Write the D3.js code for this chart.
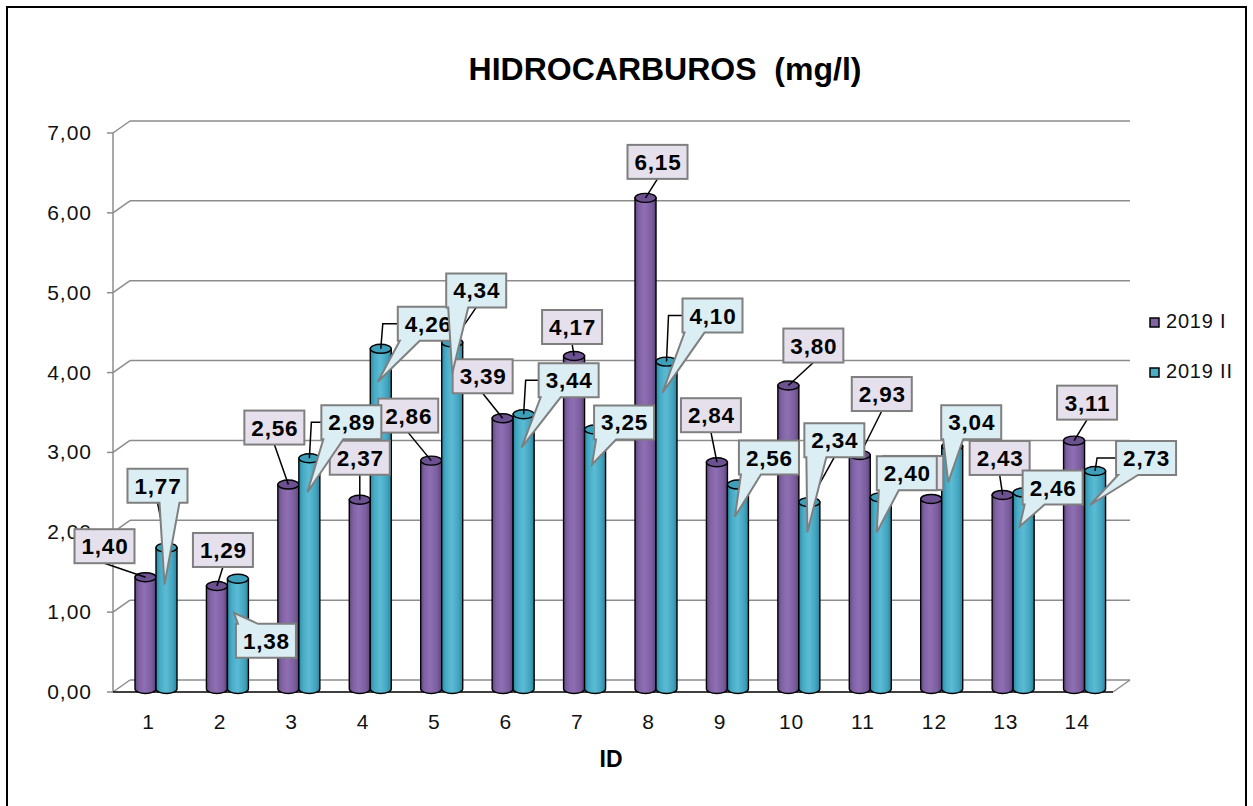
<!DOCTYPE html>
<html>
<head>
<meta charset="utf-8">
<script src="https://cdn.jsdelivr.net/npm/d3@7"></script>
<style>
  body { margin: 0; background: #fff; }
  text { font-family: Arial, "Liberation Sans", sans-serif; }
</style>
</head>
<body>
<div id="chart"></div>
<script>
// datos
var categorias = ["1","2","3","4","5","6","7","8","9","10","11","12","13","14"];
var serie2019I  = [1.40,1.29,2.56,2.37,2.86,3.39,4.17,6.15,2.84,3.80,2.93,2.38,2.43,3.11];
var serie2019II = [1.77,1.38,2.89,4.26,4.34,3.44,3.25,4.10,2.56,2.34,2.40,3.04,2.46,2.73];
var ticksY = [0,1,2,3,4,5,6,7];
var nombresSeries = ["2019 I","2019 II"];

// posicion de las etiquetas respecto a la tapa del cilindro (layout)
var posEtiqI = [[-41,-31],[6,-36],[-14,-57],[0,-42],[-23,-45],[-20,-42],[-2,-29],
                [12,-36],[-6,-47],[25,-40],[22,-61],[-18,-26],[-3,-37],[13,-38]];
var posEtiqII = [[-9,-62],[28,62],[42,-36],[47,-25],[24,-52],[45,-34],[29,-7],
                 [46,-46],[31,-27],[25,-62],[26,-24],[19,-24],[29,-5],[51,-13]];
var puntaII = [[-2,37],[-4,34],[-2,34],[-3,33],[0,31],[-2,33],[-3,35],
               [-4,31],[-3,32],[-2,30],[-4,35],[-4,36],[-4,34],[-5,34]];

var W = 1253, H = 806;
var prof = {dx: 17, dy: -12};
var fmt = d3.formatLocale({decimal: ",", thousands: ".", grouping: [3], currency: ["", ""]}).format(".2f");

var svg = d3.select("#chart").append("svg")
    .attr("width", W).attr("height", H);

// marco
svg.append("rect").attr("x", 7).attr("y", 7).attr("width", 1239).attr("height", 820)
    .attr("fill", "#fff").attr("stroke", "#000").attr("stroke-width", 2);

var x = d3.scaleBand().domain(categorias).range([113, 1113]);
var y = d3.scaleLinear().domain([0, 7]).range([692, 133]);

// gradientes
var defs = svg.append("defs");
function gradiente(id, stops) {
    var g = defs.append("linearGradient").attr("id", id)
        .attr("x1", "0%").attr("x2", "100%").attr("y1", "0%").attr("y2", "0%");
    stops.forEach(function(s) { g.append("stop").attr("offset", s[0]).attr("stop-color", s[1]); });
}
gradiente("gradMorado", [["0%","#5f4782"],["18%","#8062a4"],["45%","#8e6fb3"],["80%","#7b5d9e"],["100%","#5a4379"]]);
gradiente("gradTurq", [["0%","#2d89a3"],["20%","#47abc6"],["48%","#5cbbd4"],["80%","#43a4bf"],["100%","#2b859e"]]);

// paredes y lineas de division
var grid = svg.append("g");
ticksY.forEach(function(t) {
    var yf = y(t);
    grid.append("line").attr("x1", 107).attr("x2", 113).attr("y1", yf).attr("y2", yf)
        .attr("stroke", "#8c8c8c").attr("stroke-width", 1.5);
    grid.append("line").attr("x1", 113).attr("y1", yf).attr("x2", 113 + prof.dx).attr("y2", yf + prof.dy)
        .attr("stroke", "#8c8c8c").attr("stroke-width", 1.5);
    grid.append("line").attr("x1", 113 + prof.dx).attr("y1", yf + prof.dy).attr("x2", 1113 + prof.dx).attr("y2", yf + prof.dy)
        .attr("stroke", "#8c8c8c").attr("stroke-width", 1.5);
});
grid.append("line").attr("x1", 113).attr("x2", 113).attr("y1", y(7)).attr("y2", y(0))
    .attr("stroke", "#8c8c8c").attr("stroke-width", 1.5);
grid.append("line").attr("x1", 1113).attr("y1", y(0)).attr("x2", 1113 + prof.dx).attr("y2", y(0) + prof.dy)
    .attr("stroke", "#8c8c8c").attr("stroke-width", 1.5);
grid.append("line").attr("x1", 113).attr("x2", 1113).attr("y1", y(0)).attr("y2", y(0))
    .attr("stroke", "#000").attr("stroke-width", 1.5);

// etiquetas eje Y
svg.append("g").selectAll("text").data(ticksY).enter().append("text")
    .attr("x", 92).attr("y", function(d) { return y(d) + 7; })
    .attr("text-anchor", "end").attr("font-size", 21).attr("letter-spacing", 1).attr("fill", "#111")
    .text(function(d) { return fmt(d); });

// etiquetas eje X
svg.append("g").selectAll("text").data(categorias).enter().append("text")
    .attr("x", function(d) { return x(d) + x.bandwidth() / 2; }).attr("y", 729)
    .attr("text-anchor", "middle").attr("font-size", 21).attr("letter-spacing", 1).attr("fill", "#111")
    .text(function(d) { return d; });

svg.append("text").attr("x", 611).attr("y", 767).attr("text-anchor", "middle")
    .attr("font-size", 23).attr("font-weight", "bold").text("ID");

svg.append("text").attr("x", 665).attr("y", 80).attr("text-anchor", "middle")
    .attr("font-size", 32).attr("font-weight", "bold").style("white-space", "pre")
    .text("HIDROCARBUROS  (mg/l)");

// cilindros
var anchoBar = 21, ry = 4.5;
var base = y(0) - 3;
function barLeft(i, s) { return x(categorias[i]) + (s === 0 ? 22 : 43); }
function barTop(v) { return y(v) - 3; }

var barras = svg.append("g");
function cilindro(i, v, s) {
    var l = barLeft(i, s), r = l + anchoBar, cx = l + anchoBar / 2, t = barTop(v);
    var g = barras.append("g");
    g.append("path")
        .attr("d", "M" + l + "," + t + "L" + l + "," + base + "A" + (anchoBar / 2) + "," + ry + " 0 0 0 " + r + "," + base + "L" + r + "," + t + "Z")
        .attr("fill", s === 0 ? "url(#gradMorado)" : "url(#gradTurq)")
        .attr("stroke", "#000").attr("stroke-width", 1.4);
    g.append("ellipse").attr("cx", cx).attr("cy", t).attr("rx", anchoBar / 2).attr("ry", ry)
        .attr("fill", s === 0 ? "#6c5190" : "#3d9fba")
        .attr("stroke", "#000").attr("stroke-width", 1.4);
}
categorias.forEach(function(c, i) {
    cilindro(i, serie2019I[i], 0);
    cilindro(i, serie2019II[i], 1);
});

// etiquetas de datos
var bw = 60, bh = 34;
var capa = svg.append("g");
function clamp(v, a, b) { return Math.max(a, Math.min(b, v)); }

function calloutPath(l, t, r, b, tx, ty) {
    var w = 20, bx;
    if (ty > b) {
        bx = clamp(tx - 5, l + 2, r - w - 2);
        return "M" + l + "," + t + "H" + r + "V" + b + "H" + (bx + w) + "L" + tx + "," + ty + "L" + bx + "," + b + "H" + l + "Z";
    }
    bx = clamp(tx - 5, l + 2, r - w - 2);
    return "M" + l + "," + t + "H" + bx + "L" + tx + "," + ty + "L" + (bx + w) + "," + t + "H" + r + "V" + b + "H" + l + "Z";
}

// cajas de la serie II (para saber que etiquetas de la serie I quedan tapadas)
var cajasII = serie2019II.map(function(v, i) {
    var bx = barLeft(i, 1) + anchoBar / 2, by = barTop(v);
    return {cx: bx + posEtiqII[i][0], cy: by + posEtiqII[i][1]};
});
function tapada(cx, cy) {
    return cajasII.some(function(c) {
        var ox = Math.max(0, bw - Math.abs(c.cx - cx)), oy = Math.max(0, bh - Math.abs(c.cy - cy));
        return ox * oy > 0.6 * bw * bh;
    });
}

// serie I: cuadro con linea guia
serie2019I.forEach(function(v, i) {
    var bx = barLeft(i, 0) + anchoBar / 2, by = barTop(v);
    var cx = bx + posEtiqI[i][0], cy = by + posEtiqI[i][1];
    var l = cx - bw / 2, t = cy - bh / 2, r = cx + bw / 2, b = cy + bh / 2;
    var oculta = tapada(cx, cy);
    if (by - b > 5 && !oculta) {
        capa.append("line").attr("x1", cx).attr("y1", b).attr("x2", bx).attr("y2", by)
            .attr("stroke", "#000").attr("stroke-width", 1.5);
    }
    capa.append("rect").attr("x", l).attr("y", t).attr("width", bw).attr("height", bh)
        .attr("fill", "#e5e0ec").attr("stroke", "#7f7f7f").attr("stroke-width", 2);
    if (!oculta) {
        capa.append("text").attr("x", cx + 0.5).attr("y", cy + 8).attr("text-anchor", "middle")
            .attr("font-size", 22.5).attr("font-weight", "bold").attr("letter-spacing", 0.8)
            .text(fmt(v));
    }
});

// serie II: globo con punta
serie2019II.forEach(function(v, i) {
    var bx = barLeft(i, 1) + anchoBar / 2, by = barTop(v);
    var cx = cajasII[i].cx, cy = cajasII[i].cy;
    var tx = bx + puntaII[i][0], ty = by + puntaII[i][1];
    var l = cx - bw / 2, t = cy - bh / 2, r = cx + bw / 2, b = cy + bh / 2;
    var dxn = bx - clamp(bx, l, r), dyn = by - clamp(by, t, b);
    var dist = Math.sqrt(dxn * dxn + dyn * dyn);
    if (cy < by && dist > 12) {
        var pts;
        if (bx < l) pts = [[l, cy], [bx + 2, cy], [bx, by]];
        else pts = [[cx, b], [bx, by]];
        capa.append("path").attr("d", d3.line()(pts)).attr("fill", "none")
            .attr("stroke", "#000").attr("stroke-width", 1.5);
    }
    capa.append("path").attr("d", calloutPath(l, t, r, b, tx, ty))
        .attr("fill", "#dbeef4").attr("stroke", "#7f7f7f").attr("stroke-width", 2)
        .attr("stroke-linejoin", "miter");
    capa.append("text").attr("x", cx + 0.5).attr("y", cy + 8).attr("text-anchor", "middle")
        .attr("font-size", 22.5).attr("font-weight", "bold").attr("letter-spacing", 0.8)
        .text(fmt(v));
});

// leyenda
var leyenda = svg.append("g");
nombresSeries.forEach(function(n, i) {
    var ly = 328 + i * 50;
    leyenda.append("rect").attr("x", 1150).attr("y", ly - 10).attr("width", 9).attr("height", 9)
        .attr("fill", i === 0 ? "#8064a2" : "#4bacc6").attr("stroke", "#000").attr("stroke-width", 1.5);
    leyenda.append("text").attr("x", 1166).attr("y", ly).attr("font-size", 20).attr("letter-spacing", 0.8)
        .attr("fill", "#111").text(n);
});
</script>
</body>
</html>
